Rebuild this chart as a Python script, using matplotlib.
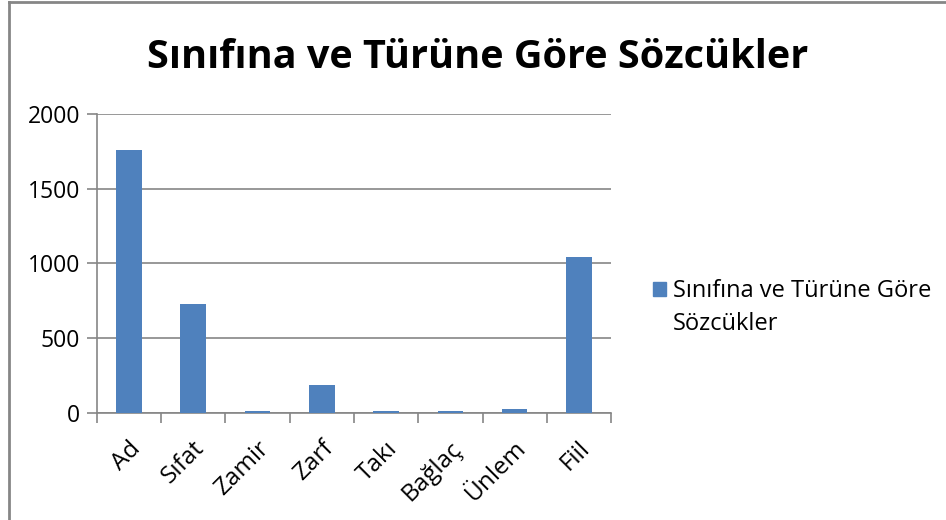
import matplotlib.pyplot as plt
import numpy as np
from matplotlib.lines import Line2D

plt.rcParams['font.family'] = ['Open Sans', 'DejaVu Sans']

categories = ["Ad", "Sıfat", "Zamir", "Zarf", "Takı", "Bağlaç", "Ünlem", "Fiil"]
counts = [1758, 730, 15, 185, 14, 10, 25, 1043]
title = "Sınıfına ve Türüne Göre Sözcükler"
series_label_lines = ["Sınıfına ve Türüne Göre", "Sözcükler"]

BAR_COLOR = "#4F81BD"
GRID = "#868686"

fig = plt.figure(figsize=(9.46, 5.2), dpi=100)
ax = fig.add_axes([0.1025, 0.2058, 0.5434, 0.575])

x = np.arange(len(categories))
ax.bar(x, counts, width=0.4, color=BAR_COLOR, zorder=3)

ax.set_xlim(-0.5, len(categories) - 0.5)
ax.set_ylim(0, 2000)
ax.set_yticks([0, 500, 1000, 1500, 2000])
ax.grid(axis="y", color=GRID, linewidth=1.2, zorder=0)

for side in ("top", "right"):
    ax.spines[side].set_visible(False)
for side in ("left", "bottom"):
    ax.spines[side].set_color(GRID)
    ax.spines[side].set_linewidth(1.2)

ax.tick_params(axis="y", length=7, color=GRID, width=1.2, labelsize=16.5, pad=5)
ax.set_xticks(np.arange(-0.5, len(categories), 1.0))
ax.set_xticklabels([])
ax.tick_params(axis="x", length=7, color=GRID, width=1.2)

for xi, name in zip(x, categories):
    ax.annotate(name, xy=(xi + 0.12, 0), xycoords=("data", "axes fraction"),
                xytext=(0, -23), textcoords="offset points",
                rotation=45, rotation_mode="anchor", ha="right", va="center",
                fontsize=17.5)

fig.text(0.505, 0.89, title, ha="center", va="center", fontsize=28.5, fontweight="bold")

# legend: one series, label wrapped over two lines (handle next to first line)
handles = [plt.Rectangle((0, 0), 1, 1, color=BAR_COLOR),
           plt.Rectangle((0, 0), 1, 1, color="none")]
leg = ax.legend(handles=handles, labels=series_label_lines,
                loc="upper left", bbox_to_anchor=(0.69, 0.463), bbox_transform=fig.transFigure,
                frameon=False, fontsize=17, handlelength=0.55, handleheight=0.55,
                handletextpad=0.3, borderaxespad=0, borderpad=0, labelspacing=0.35)

# chart area border (top and left edges visible)
fig.add_artist(Line2D([0.009, 1.0], [0.997, 0.997], transform=fig.transFigure,
                      color="#868686", linewidth=2))
fig.add_artist(Line2D([0.009, 0.009], [0.0, 0.997], transform=fig.transFigure,
                      color="#868686", linewidth=2))

fig.savefig("out.png", dpi=100)
